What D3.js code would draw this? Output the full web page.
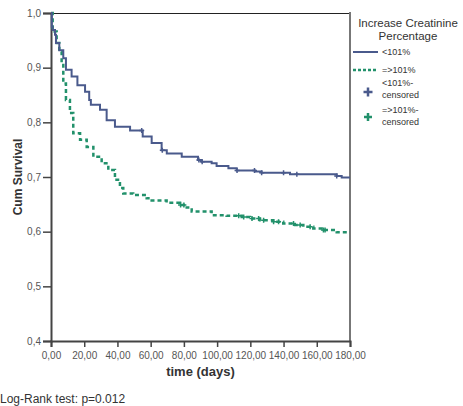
<!DOCTYPE html>
<meta charset="utf-8">
<style>
body { margin: 0; background: #fff; }
text { font-family: "Liberation Sans", Arial, sans-serif; }
.tick text { fill: #555; font-size: 10px; }
</style>
<svg width="463" height="406"></svg>
<script src="https://d3js.org/d3.v7.min.js"></script>
<script>

// step points of the Kaplan-Meier curves: [time, survival]
var lowTimes = [0, 0.5, 1, 2.4, 3, 5, 7.4, 9, 12.4, 15.9, 20.5, 23, 24, 29.5, 33.5, 38.5, 47.6, 55.2, 60.6, 66.6, 69.7, 78.7, 88.5, 90.7, 96.7, 99.7, 106.8, 111.8, 122.8, 126.8, 143.9, 172, 175, 180];
var lowSurv  = [1.0, 0.975, 0.969, 0.960, 0.945, 0.932, 0.917, 0.896, 0.884, 0.868, 0.856, 0.841, 0.832, 0.823, 0.804, 0.792, 0.785, 0.774, 0.762, 0.749, 0.743, 0.737, 0.731, 0.728, 0.725, 0.720, 0.716, 0.712, 0.710, 0.708, 0.705, 0.702, 0.699, 0.699];
var highTimes = [0, 1, 3.4, 5, 6.4, 7.4, 9, 11.4, 13.4, 17.5, 21.5, 25.5, 30.5, 34.5, 38.5, 41.5, 43.5, 49.5, 57.6, 60.6, 69.6, 77.7, 81.7, 84.7, 96.7, 105.7, 114.8, 119.8, 125.8, 133.8, 139.8, 146.9, 151.9, 157.9, 162.9, 172, 180];
var highSurv  = [1.0, 0.966, 0.945, 0.929, 0.905, 0.871, 0.841, 0.817, 0.780, 0.768, 0.755, 0.737, 0.725, 0.713, 0.695, 0.680, 0.670, 0.667, 0.661, 0.657, 0.653, 0.649, 0.644, 0.637, 0.630, 0.629, 0.627, 0.624, 0.621, 0.618, 0.615, 0.612, 0.609, 0.606, 0.603, 0.599, 0.599];
var lowCensored = [54.6, 67, 89, 91, 112, 122.5, 126.8, 140, 148, 172];
var highCensored = [78, 80, 113, 116, 121, 125, 128, 134, 137, 146, 150, 156, 164, 165];

var yTicks = [0.4, 0.5, 0.6, 0.7, 0.8, 0.9, 1.0];
var xTicks = [0, 20, 40, 60, 80, 100, 120, 140, 160, 180];
var legendTitle = ["Increase Creatinine", "Percentage"];
var legendLabels = ["<101%", "=>101%", ["<101%-", "censored"], ["=>101%-", "censored"]];
var footnote = "Log-Rank test: p=0.012";

var blue = "#4a5a8c", green = "#22916b";

var svg = d3.select("svg"),
    margin = {top: 13, left: 51, right: 113, bottom: 65},
    width = 463 - margin.left - margin.right,
    height = 406 - margin.top - margin.bottom;

var x = d3.scaleLinear().domain([0, 180]).range([0, width]),
    y = d3.scaleLinear().domain([0.4, 1.0]).range([height, 0]);

var g = svg.append("g")
    .attr("transform", "translate(" + margin.left + "," + margin.top + ")");

// frame: top black, right grey
g.append("line").attr("x1", 0).attr("x2", width).attr("y1", 0.5).attr("y2", 0.5)
    .attr("stroke", "#222").attr("stroke-width", 1);
g.append("line").attr("x1", width).attr("x2", width).attr("y1", -1).attr("y2", height)
    .attr("stroke", "#777").attr("stroke-width", 2);

var fmtY = function(d) { return d3.format(".1f")(d).replace(".", ","); },
    fmtX = function(d) { return d3.format(".2f")(d).replace(".", ","); };

var yAxis = g.append("g")
    .call(d3.axisLeft(y).tickValues(yTicks).tickFormat(fmtY).tickSize(8).tickPadding(2));
var xAxis = g.append("g")
    .attr("transform", "translate(0," + height + ")")
    .call(d3.axisBottom(x).tickValues(xTicks).tickFormat(fmtX).tickSize(6).tickPadding(5));

[yAxis, xAxis].forEach(function(a) {
  a.select(".domain").attr("stroke", "#444").attr("stroke-width", 2);
  a.selectAll(".tick line").attr("stroke", "#444").attr("stroke-width", 1.5);
});

function stepData(t, s) { return t.map(function(d, i) { return [d, s[i]]; }); }
function survAt(t, s, time) {
  var v = s[0];
  for (var i = 0; i < t.length; i++) if (t[i] <= time) v = s[i];
  return v;
}

var line = d3.line()
    .curve(d3.curveStepAfter)
    .x(function(d) { return x(d[0]); })
    .y(function(d) { return y(d[1]); });

g.append("path").datum(stepData(highTimes, highSurv))
    .attr("fill", "none").attr("stroke", green).attr("stroke-width", 2.5)
    .attr("stroke-dasharray", "4,3").attr("d", line);
g.append("path").datum(stepData(lowTimes, lowSurv))
    .attr("fill", "none").attr("stroke", blue).attr("stroke-width", 2).attr("d", line);

function plus(sel, cx, cy, r, color, w) {
  sel.append("path")
      .attr("d", "M" + (cx - r) + "," + cy + "H" + (cx + r) + "M" + cx + "," + (cy - r) + "V" + (cy + r))
      .attr("stroke", color).attr("stroke-width", w).attr("fill", "none");
}

lowCensored.forEach(function(t) { plus(g, x(t), y(survAt(lowTimes, lowSurv, t)), 2.5, blue, 1.5); });
highCensored.forEach(function(t) { plus(g, x(t), y(survAt(highTimes, highSurv, t)), 2.5, green, 1.5); });

// axis titles
svg.append("text")
    .attr("transform", "translate(22," + (margin.top + height / 2) + ") rotate(-90)")
    .attr("text-anchor", "middle").attr("font-size", 12).attr("font-weight", "bold")
    .attr("fill", "#333").text("Cum Survival");
svg.append("text")
    .attr("x", margin.left + width / 2).attr("y", 376)
    .attr("text-anchor", "middle").attr("font-size", 13).attr("font-weight", "bold")
    .attr("fill", "#333").text("time (days)");
svg.append("text")
    .attr("x", 0).attr("y", 403).attr("font-size", 12).attr("fill", "#333").text(footnote);

// legend
var lg = svg.append("g").attr("transform", "translate(352,0)");
legendTitle.forEach(function(t, i) {
  lg.append("text").attr("x", 56).attr("y", 27 + i * 13)
      .attr("text-anchor", "middle").attr("font-size", 11.5).attr("fill", "#333").text(t);
});
lg.append("line").attr("x1", 1).attr("x2", 26).attr("y1", 52).attr("y2", 52)
    .attr("stroke", blue).attr("stroke-width", 2);
lg.append("line").attr("x1", 1).attr("x2", 26).attr("y1", 70).attr("y2", 70)
    .attr("stroke", green).attr("stroke-width", 2.5).attr("stroke-dasharray", "3,2");
lg.append("text").attr("x", 30).attr("y", 55).attr("font-size", 9).attr("fill", "#333").text(legendLabels[0]);
lg.append("text").attr("x", 30).attr("y", 73).attr("font-size", 9).attr("fill", "#333").text(legendLabels[1]);
plus(lg, 16, 92, 4.5, blue, 2.5);
plus(lg, 16, 117, 4, green, 2.5);
legendLabels[2].forEach(function(t, i) {
  lg.append("text").attr("x", 30).attr("y", 86 + i * 12).attr("font-size", 9).attr("fill", "#333").text(t);
});
legendLabels[3].forEach(function(t, i) {
  lg.append("text").attr("x", 30).attr("y", 113 + i * 12).attr("font-size", 9).attr("fill", "#333").text(t);
});

</script>
